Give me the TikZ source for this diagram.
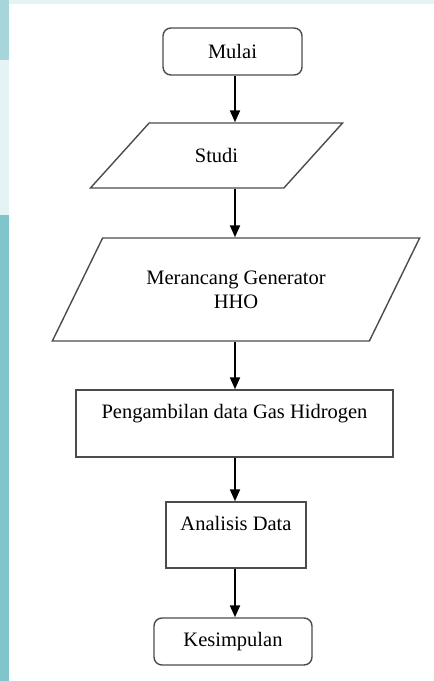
\documentclass[tikz,border=0pt]{standalone}
\usepackage{fontspec}
\setmainfont{Liberation Serif}
\usetikzlibrary{shapes.geometric,arrows.meta}
\definecolor{tosca}{HTML}{80C4CC}
\definecolor{toscalight}{HTML}{E6F3F5}
\begin{document}
\begin{tikzpicture}[x=1pt,y=-1pt,
 box/.style={draw=black!70,line width=1.4pt,font=\fontsize{20.5}{24}\selectfont,align=center,inner sep=0pt},
 term/.style={box,rounded corners=8pt},
 io/.style={box,trapezium,trapezium stretches=true},
 flow/.style={line width=2pt,-{Triangle[length=12pt,width=10pt]}}]
 \useasboundingbox (0,0) rectangle (434,681);
 \fill[white] (0,0) rectangle (434,681);
 \fill[toscalight] (0,0) rectangle (434,4);
 \fill[toscalight] (0,0) rectangle (9,215);
 \fill[tosca!70] (0,0) rectangle (9,60);
 \fill[tosca] (0,215) rectangle (9,681);
 \coordinate (axis) at (235,0);
 \node[term,minimum width=139pt,minimum height=47pt] (mulai) at (232.5,51.5) {Mulai};
 \node[io,trapezium left angle=37.4,trapezium right angle=142.6,minimum width=253pt,minimum height=65pt] (studi) at (216.5,155.5) {Studi};
 \node[io,trapezium left angle=48.2,trapezium right angle=131.8,minimum width=368pt,minimum height=103pt] (rancang) at (236,289.5) {Merancang Generator\\HHO};
 \node[box,minimum width=317pt,minimum height=67pt] (ambil) at (234.5,423.5) {Pengambilan data Gas Hidrogen\\~};
 \node[box,minimum width=140pt,minimum height=66pt] (analisis) at (236,535) {Analisis Data\\~};
 \node[term,minimum width=158pt,minimum height=47pt] (kesimpulan) at (233,641.5) {Kesimpulan};
 \draw[flow] (axis |- mulai.south) -- (axis |- studi.north);
 \draw[flow] (axis |- studi.south) -- (axis |- rancang.north);
 \draw[flow] (axis |- rancang.south) -- (axis |- ambil.north);
 \draw[flow] (axis |- ambil.south) -- (axis |- analisis.north);
 \draw[flow] (axis |- analisis.south) -- (axis |- kesimpulan.north);
\end{tikzpicture}
\end{document}
